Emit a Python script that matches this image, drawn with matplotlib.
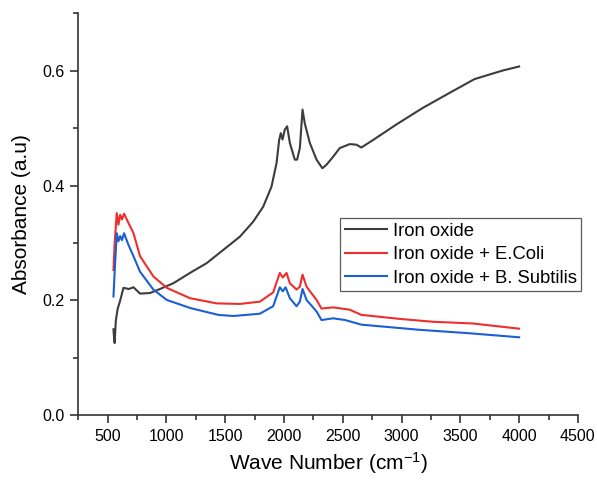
"""
FTIR absorbance spectra of iron oxide with and without bacterial treatment.
"""

import matplotlib
matplotlib.use('Agg')
import matplotlib.pyplot as plt
from matplotlib.ticker import MultipleLocator

plt.rcParams['font.family'] = ['Liberation Sans', 'DejaVu Sans']

# Iron oxide
wn_iron = [550, 555, 560, 570, 585, 607, 635, 680, 720, 776, 861, 946, 1059, 1201,
           1343, 1484, 1625, 1738, 1823, 1894, 1937, 1959, 1973, 1988, 2007,
           2027, 2050, 2092, 2112, 2135, 2158, 2177, 2220, 2277, 2327, 2361, 2418,
           2474, 2559, 2616, 2658, 2757, 2955, 3181, 3408, 3620, 3748, 3861, 4000]
abs_iron = [0.150, 0.135, 0.126, 0.165, 0.185, 0.200, 0.222, 0.220, 0.223, 0.212, 0.213,
            0.220, 0.230, 0.248, 0.265, 0.288, 0.311, 0.337, 0.363, 0.398, 0.439, 0.479,
            0.491, 0.480, 0.497, 0.503, 0.474, 0.445, 0.445, 0.465, 0.532, 0.508,
            0.474, 0.445, 0.430, 0.436, 0.450, 0.465, 0.472, 0.471, 0.466, 0.479, 0.506,
            0.535, 0.561, 0.585, 0.593, 0.600, 0.607]

# Iron oxide + E.Coli
wn_ecoli = [550, 560, 578, 592, 607, 622, 640, 677, 720, 776, 889, 1003, 1201,
            1427, 1625, 1795, 1908, 1965, 1990, 2022, 2050, 2107, 2135, 2158,
            2192, 2277, 2319, 2418, 2559, 2658, 2984, 3267, 3606, 4000]
abs_ecoli = [0.253, 0.300, 0.352, 0.332, 0.349, 0.341, 0.351, 0.335, 0.317, 0.277, 0.242,
             0.222, 0.204, 0.195, 0.194, 0.198, 0.214, 0.248, 0.240, 0.248,
             0.230, 0.219, 0.224, 0.245, 0.224, 0.201, 0.186, 0.188, 0.184, 0.175, 0.168,
             0.163, 0.160, 0.151]

# Iron oxide + B. Subtilis
wn_bsub = [550, 560, 578, 592, 607, 622, 640, 677, 720, 776, 889, 1003, 1201,
           1441, 1569, 1795, 1908, 1965, 1990, 2014, 2050, 2107, 2135, 2158,
           2192, 2277, 2319, 2418, 2520, 2658, 3153, 3578, 4000]
abs_bsub = [0.207, 0.250, 0.317, 0.303, 0.312, 0.305, 0.317, 0.297, 0.277, 0.250, 0.219,
            0.201, 0.187, 0.175, 0.173, 0.177, 0.190, 0.223, 0.216, 0.223,
            0.204, 0.190, 0.198, 0.220, 0.201, 0.181, 0.166, 0.169, 0.166, 0.158, 0.149,
            0.143, 0.136]

fig = plt.figure(figsize=(5.97, 4.82), dpi=100)
ax = fig.add_axes([0.131, 0.138, 0.837, 0.835])

ax.plot(wn_iron, abs_iron, color='#3c3c3c', lw=1.5, label='Iron oxide')
ax.plot(wn_ecoli, abs_ecoli, color='#ee2e2e', lw=1.5, label='Iron oxide + E.Coli')
ax.plot(wn_bsub, abs_bsub, color='#1c5fd4', lw=1.5, label='Iron oxide + B. Subtilis')

ax.set_xlim(250, 4500)
ax.set_ylim(0, 0.7)
ax.xaxis.set_major_locator(MultipleLocator(500))
ax.xaxis.set_minor_locator(MultipleLocator(250))
ax.yaxis.set_minor_locator(MultipleLocator(0.1))
ax.set_yticks([0.0, 0.2, 0.4, 0.6])
ax.set_yticklabels(['0.0', '0.2', '0.4', '0.6'])

for side in ('top', 'right'):
    ax.spines[side].set_visible(False)
for side in ('left', 'bottom'):
    ax.spines[side].set_color('#333333')
    ax.spines[side].set_linewidth(1.2)

ax.tick_params(which='major', direction='out', length=6, width=1.2,
               color='#333333', labelsize=11.5, pad=4)
ax.tick_params(which='minor', direction='out', length=3.5, width=1.2, color='#333333')

ax.set_xlabel('Wave Number (cm$\\mathregular{^{-1}}$)', fontsize=15, labelpad=4)
ax.set_ylabel('Absorbance (a.u)', fontsize=15, labelpad=8)

leg = ax.legend(loc='upper left', bbox_to_anchor=(0.524, 0.49), fontsize=13.3,
                frameon=True, fancybox=False, edgecolor='#333333',
                handlelength=2.3, handletextpad=0.3, borderpad=0.25,
                labelspacing=0.35, borderaxespad=0)
leg.get_frame().set_linewidth(0.9)

fig.savefig('out.png', dpi=100)
